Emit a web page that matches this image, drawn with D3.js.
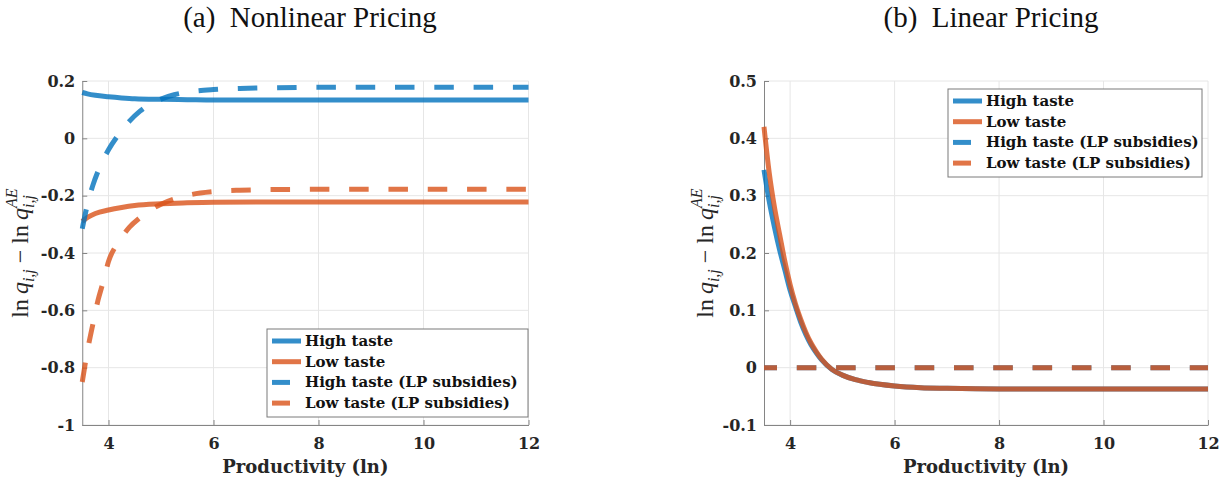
<!DOCTYPE html>
<html><head><meta charset="utf-8">
<script src="https://cdn.jsdelivr.net/npm/d3@7"></script>
<style>body{margin:0;background:#fff} svg{display:block}</style>
</head><body><svg id="c" width="1227" height="483"></svg>
<script>
// ---------- data ----------
const xTicks = [4, 6, 8, 10, 12];
const xTickLabels = ["4", "6", "8", "10", "12"];
const yTicksA = [-1, -0.8, -0.6, -0.4, -0.2, 0, 0.2];
const yTickLabelsA = ["-1", "-0.8", "-0.6", "-0.4", "-0.2", "0", "0.2"];
const yTicksB = [-0.1, 0, 0.1, 0.2, 0.3, 0.4, 0.5];
const yTickLabelsB = ["-0.1", "0", "0.1", "0.2", "0.3", "0.4", "0.5"];
const seriesNames = ["High taste", "Low taste", "High taste (LP subsidies)", "Low taste (LP subsidies)"];
const titles = ["(a)\u2002Nonlinear Pricing", "(b)\u2002Linear Pricing"];
const xLabel = "Productivity (ln)";

// Panel (a) Nonlinear pricing
const aHigh = [[3.5,0.16],[3.6,0.155],[3.75,0.15],[4,0.145],[4.25,0.141],[4.5,0.138],[5,0.136],[5.5,0.135],[6,0.134],[8,0.134],[12,0.134]];
const aLow = [[3.5,-0.29],[3.6,-0.276],[3.75,-0.262],[4,-0.25],[4.25,-0.241],[4.5,-0.234],[5,-0.228],[5.5,-0.225],[6,-0.223],[7,-0.222],[12,-0.222]];
const aHighLP = [[3.5,-0.315],[3.6,-0.23],[3.7,-0.165],[3.8,-0.115],[3.9,-0.075],[4,-0.04],[4.2,0.015],[4.4,0.06],[4.6,0.095],[4.8,0.12],[5,0.137],[5.25,0.152],[5.5,0.161],[6,0.17],[6.5,0.174],[7,0.176],[8,0.178],[12,0.178]];
const aLowLP = [[3.5,-0.85],[3.6,-0.74],[3.7,-0.65],[3.8,-0.565],[3.9,-0.5],[4,-0.43],[4.2,-0.36],[4.4,-0.31],[4.6,-0.277],[4.8,-0.25],[5,-0.23],[5.25,-0.212],[5.5,-0.199],[6,-0.186],[6.5,-0.181],[7,-0.179],[8,-0.178],[12,-0.178]];

// Panel (b) Linear pricing
const bHigh = [[3.5,0.345],[3.6,0.29],[3.7,0.245],[3.8,0.205],[3.9,0.17],[4,0.135],[4.1,0.107],[4.2,0.08],[4.3,0.058],[4.4,0.04],[4.5,0.026],[4.6,0.014],[4.8,-0.003],[5,-0.013],[5.25,-0.021],[5.5,-0.026],[6,-0.032],[6.5,-0.035],[7,-0.036],[8,-0.037],[12,-0.037]];
const bLow = [[3.5,0.42],[3.6,0.34],[3.7,0.28],[3.8,0.232],[3.9,0.185],[4,0.145],[4.1,0.112],[4.2,0.085],[4.3,0.062],[4.4,0.043],[4.5,0.028],[4.6,0.015],[4.8,-0.003],[5,-0.013],[5.25,-0.021],[5.5,-0.026],[6,-0.032],[6.5,-0.035],[7,-0.036],[8,-0.037],[12,-0.037]];
const bHighLP = [[3.5,0],[12,0]];
const bLowLP = [[3.5,0],[12,0]];

const colors = ["#0072BD", "#D95319", "#0072BD", "#D95319"];
const dashed = [false, false, true, true];

// ---------- drawing ----------
const svg = d3.select("#c");
const tickFont = "'DejaVu Serif', serif";
const inkCol = "#262626";
const axisCol = "#858585";
const gridCol = "#e6e6e6";

const panels = [
  {xr:[82.25,528.5], yr:[425,81], yd:[-1,0.2], yt:yTicksA, ytl:yTickLabelsA, series:[aHigh,aLow,aHighLP,aLowLP],
   title:titles[0], titleX:310, ylabX:28, dashOff:0, legend:{x:267,y:329,w:261,h:88}},
  {xr:[764,1208], yr:[425,81], yd:[-0.1,0.5], yt:yTicksB, ytl:yTickLabelsB, series:[bHigh,bLow,bHighLP,bLowLP],
   title:titles[1], titleX:991, ylabX:713, dashOff:6.5, legend:{x:948,y:89,w:254,h:88}}
];

panels.forEach(p => {
  const x = d3.scaleLinear().domain([3.5, 12]).range(p.xr);
  const y = d3.scaleLinear().domain(p.yd).range(p.yr);
  const g = svg.append("g");

  // grid
  g.append("g").selectAll("line").data(xTicks).join("line")
    .attr("x1", d => x(d)).attr("x2", d => x(d)).attr("y1", p.yr[0]).attr("y2", p.yr[1])
    .attr("stroke", gridCol).attr("stroke-width", 1);
  g.append("g").selectAll("line").data(p.yt).join("line")
    .attr("y1", d => y(d)).attr("y2", d => y(d)).attr("x1", p.xr[0]).attr("x2", p.xr[1])
    .attr("stroke", gridCol).attr("stroke-width", 1);

  // axes (ticks inside, box off)
  const xAxis = d3.axisBottom(x).tickValues(xTicks).tickFormat((d,i) => xTickLabels[i]).tickSizeInner(-5).tickSizeOuter(0);
  const yAxis = d3.axisLeft(y).tickValues(p.yt).tickFormat((d,i) => p.ytl[i]).tickSizeInner(-5).tickSizeOuter(0);
  const gx = g.append("g").attr("transform", `translate(0,${p.yr[0]})`).call(xAxis);
  const gy = g.append("g").attr("transform", `translate(${p.xr[0]},0)`).call(yAxis);
  [gx, gy].forEach(a => {
    a.select(".domain").attr("stroke", axisCol).attr("stroke-width", 1);
    a.selectAll(".tick line").attr("stroke", axisCol);
    a.selectAll(".tick text").attr("fill", inkCol).attr("font-family", tickFont)
      .attr("font-weight", "bold").attr("font-size", "16px");
  });
  gx.selectAll(".tick text").attr("dy", null).attr("y", 24);
  gy.selectAll(".tick text").attr("x", -7);

  // lines
  const line = d3.line().x(d => x(d[0])).y(d => y(d[1])).curve(d3.curveMonotoneX);
  p.series.forEach((s, i) => {
    g.append("path").datum(s).attr("d", line).attr("fill", "none")
      .attr("stroke", colors[i]).attr("stroke-opacity", 0.8).attr("stroke-width", 5)
      .attr("stroke-dasharray", dashed[i] ? "19.5,19.8" : null)
      .attr("stroke-dashoffset", dashed[i] ? p.dashOff : null);
  });

  // title
  svg.append("text").attr("x", p.titleX).attr("y", 27).attr("text-anchor", "middle")
    .attr("font-family", "'Liberation Serif', serif").attr("font-size", "29px").attr("fill", "#111")
    .text(p.title);

  // x label
  svg.append("text").attr("x", (p.xr[0] + p.xr[1]) / 2).attr("y", 473).attr("text-anchor", "middle")
    .attr("font-family", tickFont).attr("font-weight", "bold").attr("font-size", "18px").attr("fill", inkCol)
    .text(xLabel);

  // y label (math)
  const yl = svg.append("g");
  const t = yl.append("text").attr("font-family", "'Liberation Serif', serif").attr("font-size", "24px").attr("fill", inkCol);
  t.append("tspan").text("ln");
  t.append("tspan").attr("dx", 5).attr("font-style", "italic").text("q");
  t.append("tspan").attr("font-style", "italic").attr("font-size", "16px").attr("dy", 6).text("i,j");
  t.append("tspan").attr("dx", 6).attr("dy", -6).text("\u2212");
  t.append("tspan").attr("dx", 6).text("ln");
  t.append("tspan").attr("dx", 5).attr("font-style", "italic").text("q");
  const sub = t.append("tspan").attr("font-style", "italic").attr("font-size", "16px").attr("dy", 6).text("i,j");
  const subW = sub.node().getComputedTextLength();
  t.append("tspan").attr("font-style", "italic").attr("font-size", "16px").attr("dx", -subW).attr("dy", -17).text("AE");
  const bb = t.node().getBBox();
  t.attr("x", -bb.width / 2);
  yl.attr("transform", `translate(${p.ylabX},${(p.yr[0] + p.yr[1]) / 2}) rotate(-90)`);

  // legend
  const L = p.legend;
  const lg = svg.append("g").attr("transform", `translate(${L.x},${L.y})`);
  lg.append("rect").attr("width", L.w).attr("height", L.h).attr("fill", "#fff")
    .attr("stroke", "#7a7a7a").attr("stroke-width", 1);
  seriesNames.forEach((n, i) => {
    const cy = 12 + i * 20.7;
    lg.append("line").attr("x1", 5).attr("x2", dashed[i] ? 23 : 34).attr("y1", cy).attr("y2", cy)
      .attr("stroke", colors[i]).attr("stroke-opacity", 0.8).attr("stroke-width", 5);
    lg.append("text").attr("x", 38).attr("y", cy + 5).attr("font-family", tickFont).attr("font-weight", "bold")
      .attr("font-size", "15px").attr("fill", "#111").text(n);
  });
});
</script></body></html>
